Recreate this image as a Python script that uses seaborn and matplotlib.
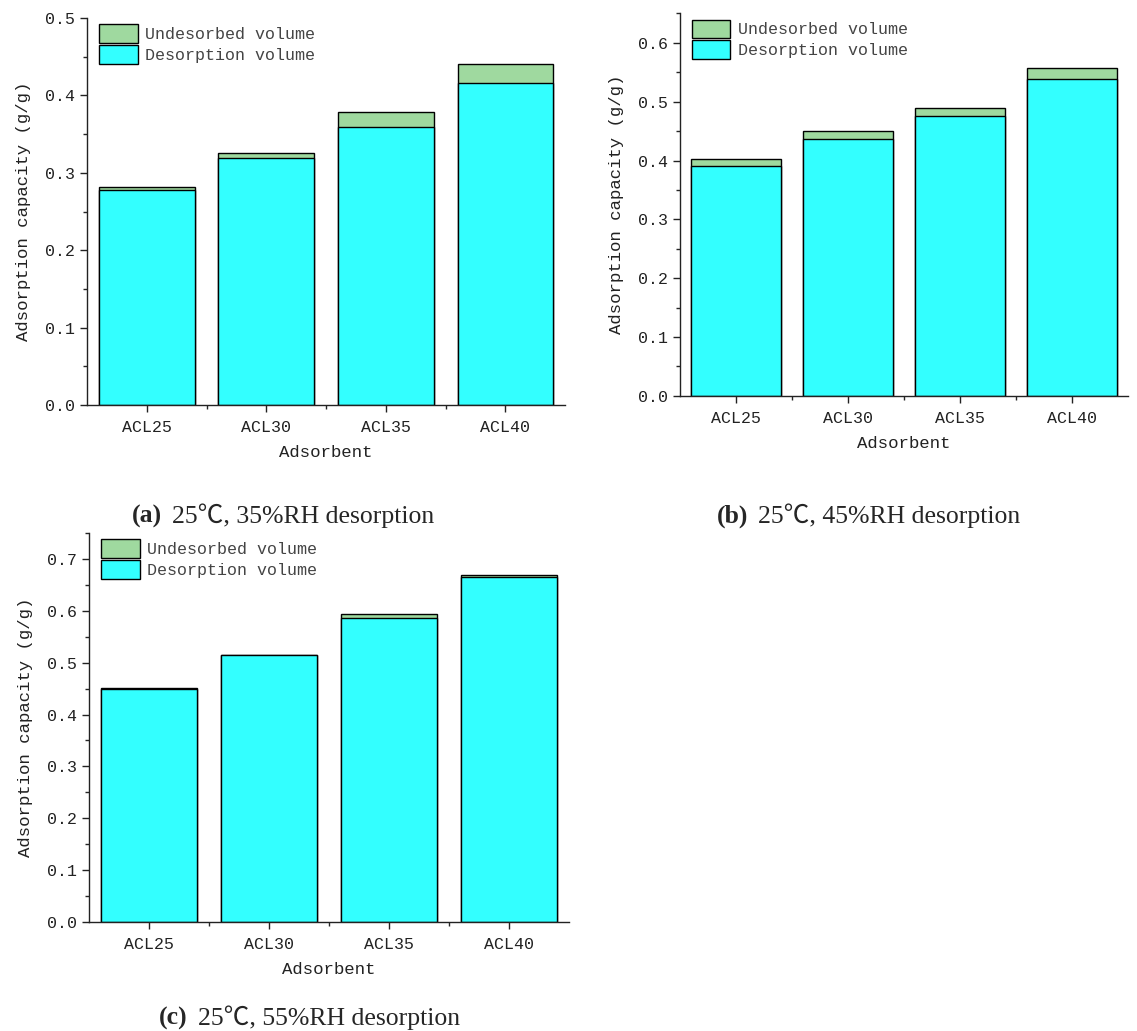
import matplotlib
matplotlib.use('Agg')
import matplotlib.pyplot as plt
import seaborn as sns
import pandas as pd
from matplotlib.ticker import MultipleLocator

# values
adsorbents = ['ACL25', 'ACL30', 'ACL35', 'ACL40']
desorb_35 = [0.278, 0.319, 0.359, 0.416]
total_35 = [0.282, 0.325, 0.378, 0.440]
desorb_45 = [0.390, 0.437, 0.475, 0.539]
total_45 = [0.403, 0.451, 0.490, 0.558]
desorb_55 = [0.449, 0.514, 0.586, 0.666]
total_55 = [0.452, 0.515, 0.593, 0.670]
captions = ['(a)', '(b)', '(c)']
cap_text = ['25℃, 35%RH desorption', '25℃, 45%RH desorption', '25℃, 55%RH desorption']
ylims = [0.5, 0.65, 0.75]

sns.set_style('ticks')
plt.rcParams['font.family'] = ['Liberation Mono', 'DejaVu Sans Mono']
plt.rcParams['axes.edgecolor'] = '#222222'
plt.rcParams['axes.linewidth'] = 1.0

fig = plt.figure(figsize=(11.37, 10.31), dpi=100)
positions = [
    [0.0765, 0.6072, 0.4205, 0.3753],
    [0.598, 0.616, 0.394, 0.371],
    [0.0783, 0.1057, 0.4221, 0.3773],
]
datasets = [(desorb_35, total_35), (desorb_45, total_45), (desorb_55, total_55)]
cap_pos = [(0.1425, 0.4927), (0.658, 0.4927), (0.165, 0.0058)]

green = '#9fd99f'
cyan = '#33ffff'

for i, (des, tot) in enumerate(datasets):
    ax = fig.add_axes(positions[i])
    df = pd.DataFrame({'Adsorbent': adsorbents, 'desorb': des, 'total': tot})
    sns.barplot(data=df, x='Adsorbent', y='total', color=green, saturation=1,
                edgecolor='black', linewidth=1, errorbar=None, ax=ax,
                label='Undesorbed volume')
    sns.barplot(data=df, x='Adsorbent', y='desorb', color=cyan, saturation=1,
                edgecolor='black', linewidth=1, errorbar=None, ax=ax,
                label='Desorption volume')
    ax.set_xlim(-0.5, 3.5)
    ax.set_ylim(0, ylims[i])
    ax.yaxis.set_major_locator(MultipleLocator(0.1))
    ax.yaxis.set_minor_locator(MultipleLocator(0.05))
    ax.set_xticks(range(4), minor=False)
    ax.set_xticks([0.5, 1.5, 2.5], minor=True)
    ax.yaxis.set_major_formatter(matplotlib.ticker.FormatStrFormatter('%.1f'))
    ax.tick_params(axis='both', which='major', length=5, width=1, labelsize=12, colors='#222222')
    ax.tick_params(axis='x', which='major', pad=6)
    ax.tick_params(axis='both', which='minor', length=3, width=1)
    sns.despine(ax=ax)
    ax.set_xlabel('Adsorbent', fontsize=12.5, color='#222222', labelpad=7)
    ax.set_ylabel('Adsorption capacity (g/g)', fontsize=12.5, color='#222222', labelpad=10)
    leg = ax.legend(loc='upper left', bbox_to_anchor=(0.005, 1.01), frameon=False,
                    fontsize=12, handlelength=2.3, handleheight=1.35,
                    handletextpad=0.45, labelspacing=0.12, borderaxespad=0.2)
    for t in leg.get_texts():
        t.set_color('#444444')
    fig.text(cap_pos[i][0], cap_pos[i][1], captions[i], fontsize=18.5, fontweight='bold',
             family=['Liberation Serif', 'DejaVu Serif'], ha='right', va='baseline')
    fig.text(cap_pos[i][0] + 0.009, cap_pos[i][1], cap_text[i], fontsize=18.5,
             family=['Liberation Serif', 'Noto Sans CJK SC'], ha='left', va='baseline')

fig.savefig('out.png', dpi=100)
